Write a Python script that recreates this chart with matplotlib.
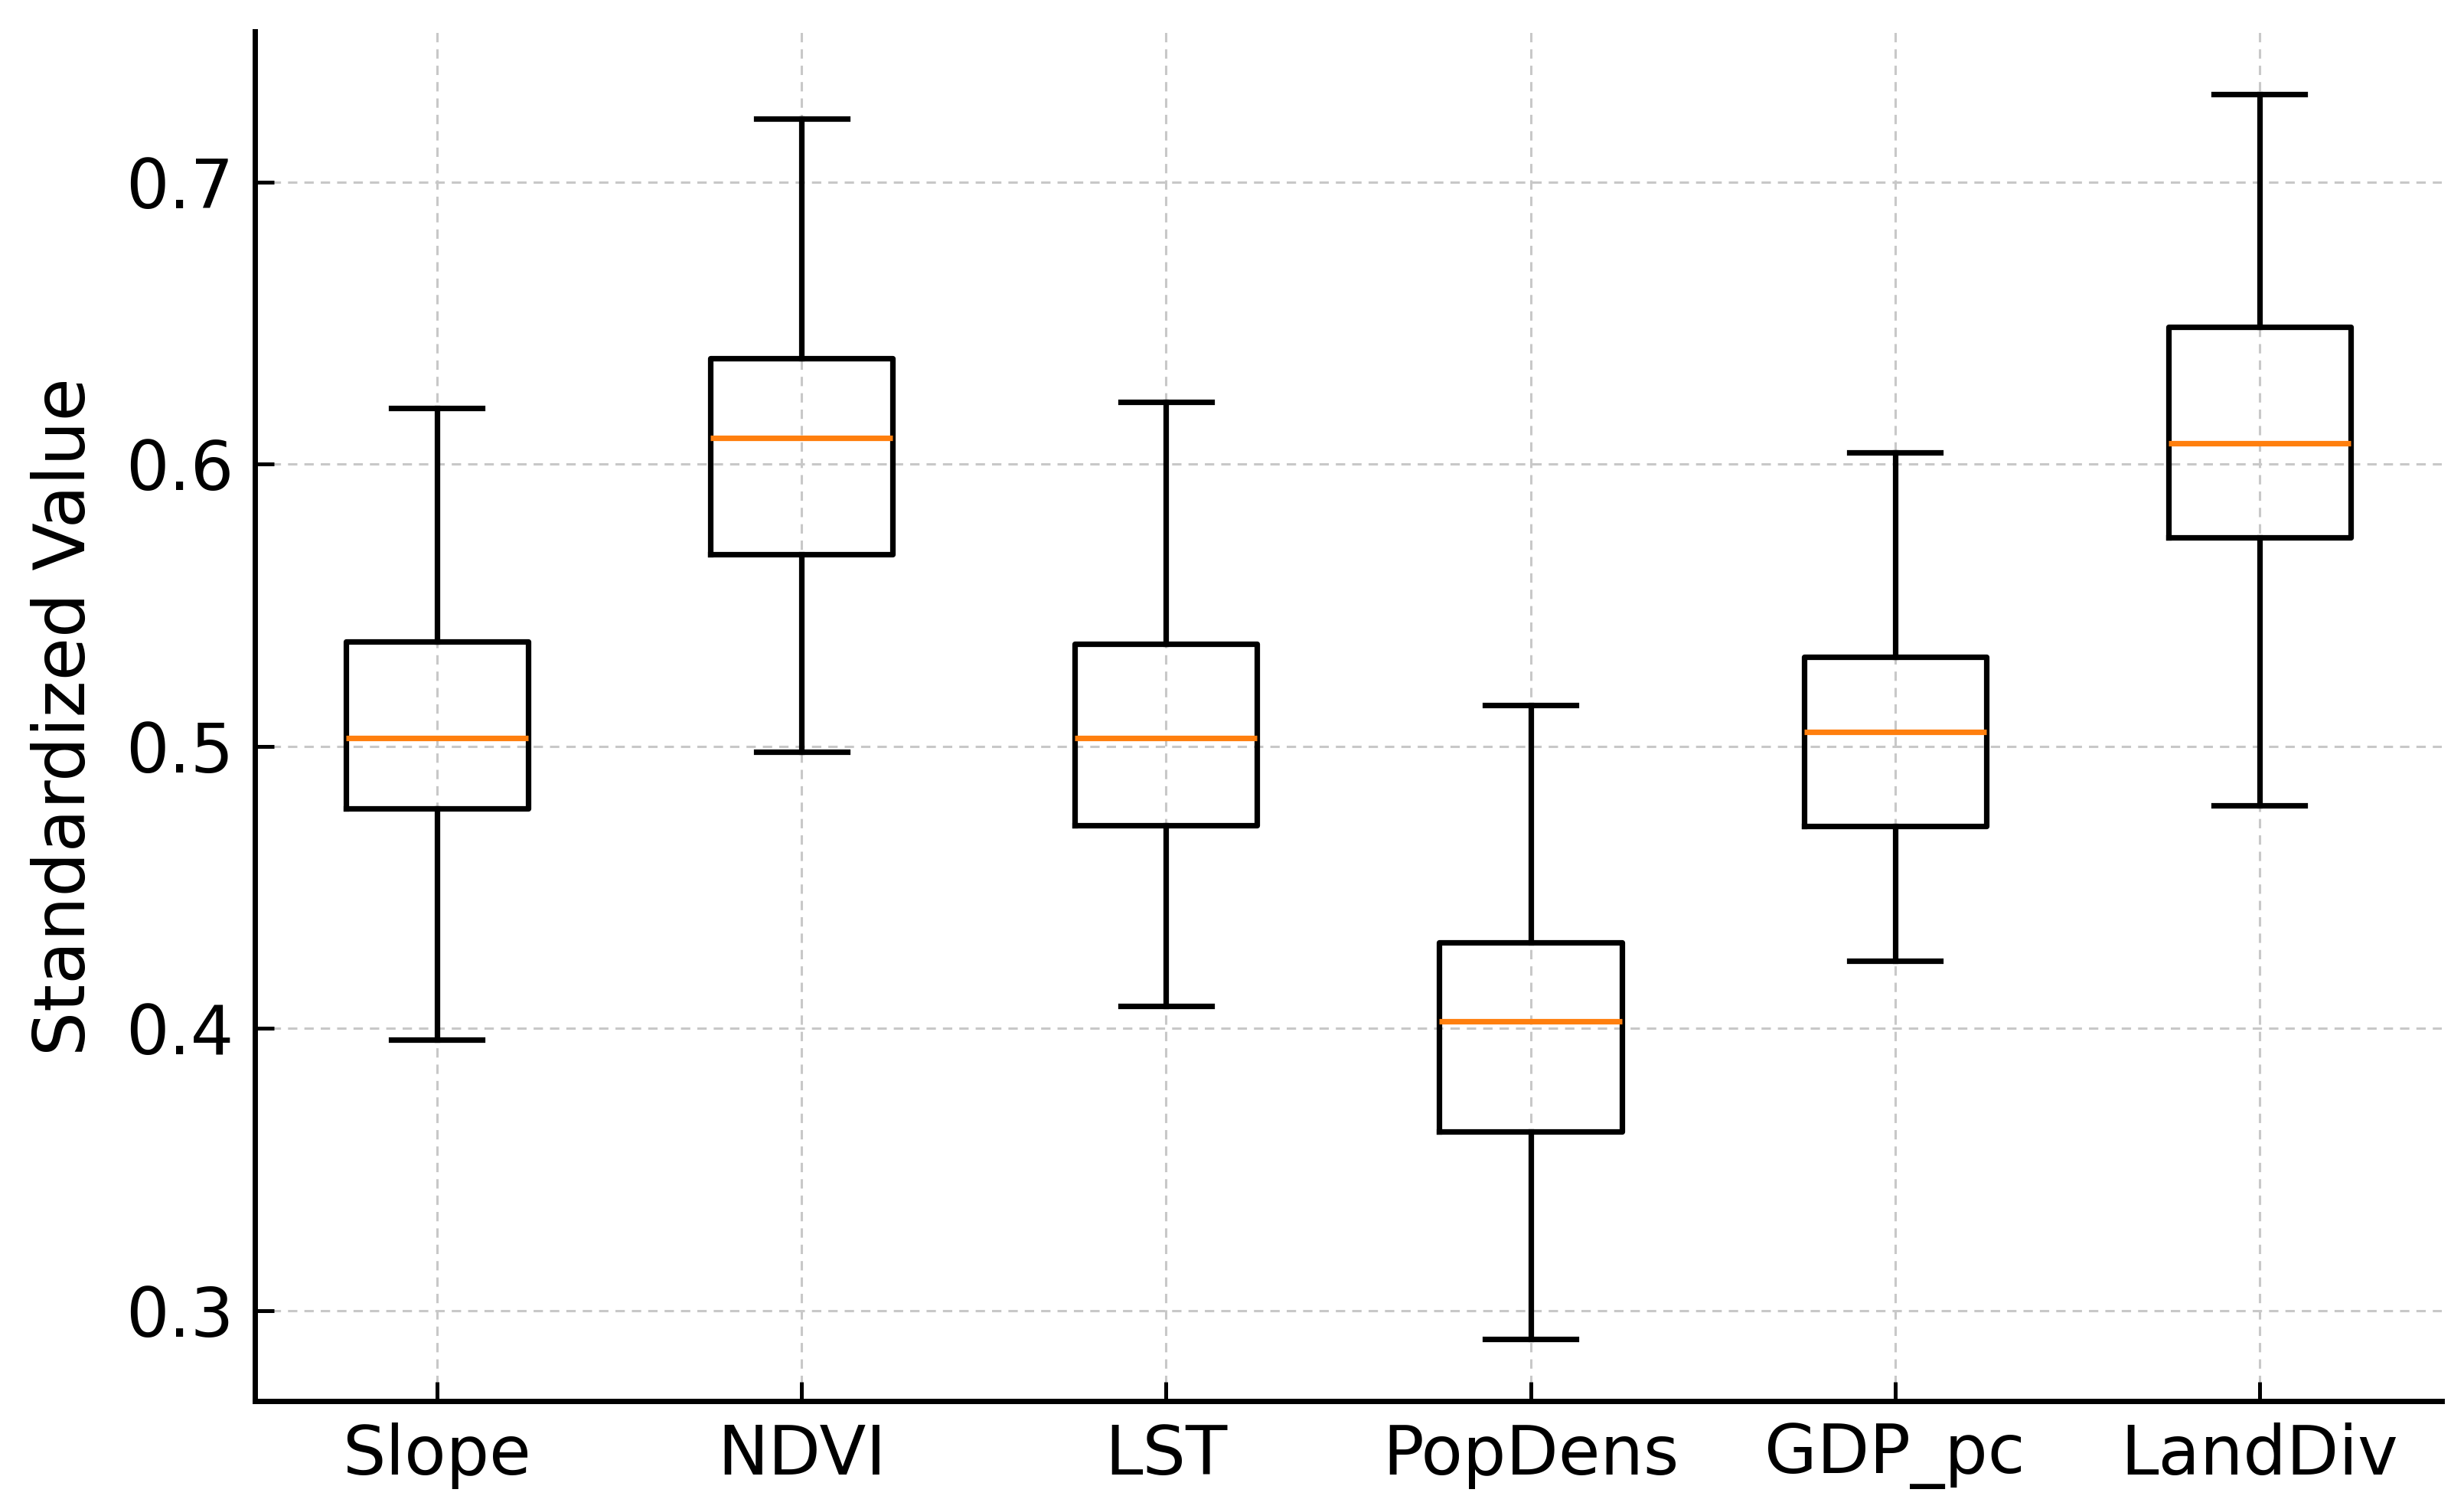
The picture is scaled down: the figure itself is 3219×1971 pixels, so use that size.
import matplotlib
matplotlib.use("Agg")
import matplotlib.pyplot as plt

# values
labels = ["Slope", "NDVI", "LST", "PopDens", "GDP_pc", "LandDiv"]
whislo = [0.396, 0.498, 0.408, 0.290, 0.424, 0.479]
q1 = [0.478, 0.568, 0.472, 0.3635, 0.4716, 0.574]
med = [0.5028, 0.6092, 0.5028, 0.4025, 0.505, 0.6075]
q3 = [0.537, 0.6376, 0.5362, 0.4304, 0.5318, 0.6487]
whishi = [0.620, 0.7223, 0.622, 0.5145, 0.6042, 0.7312]

stats = [dict(label=l, whislo=a, q1=b, med=c, q3=d, whishi=e, fliers=[])
         for l, a, b, c, d, e in zip(labels, whislo, q1, med, q3, whishi)]

plt.rcParams["font.family"] = "DejaVu Sans"
fig = plt.figure(figsize=(3219 / 200, 1971 / 200), dpi=200)
ax = fig.add_axes([0.1034, 0.0715, 0.8876, 0.9075])

lw = 2.6
ax.bxp(stats, widths=0.5,
       boxprops=dict(color="black", linewidth=lw),
       whiskerprops=dict(color="black", linewidth=lw),
       capprops=dict(color="black", linewidth=lw),
       medianprops=dict(color="#ff7f0e", linewidth=lw))

ax.grid(True, color="#c8c8c8", linestyle=(0, (4, 3)), linewidth=1.1)
ax.set_axisbelow(True)
for side in ["top", "right"]:
    ax.spines[side].set_visible(False)
for side in ["left", "bottom"]:
    ax.spines[side].set_linewidth(2.5)

ax.set_yticks([0.3, 0.4, 0.5, 0.6, 0.7])
ax.tick_params(direction="in", length=9, width=1.8, labelsize=32, pad=10)
ax.set_ylabel("Standardized Value", fontsize=33, labelpad=12)

fig.savefig("out.png", dpi=200)
